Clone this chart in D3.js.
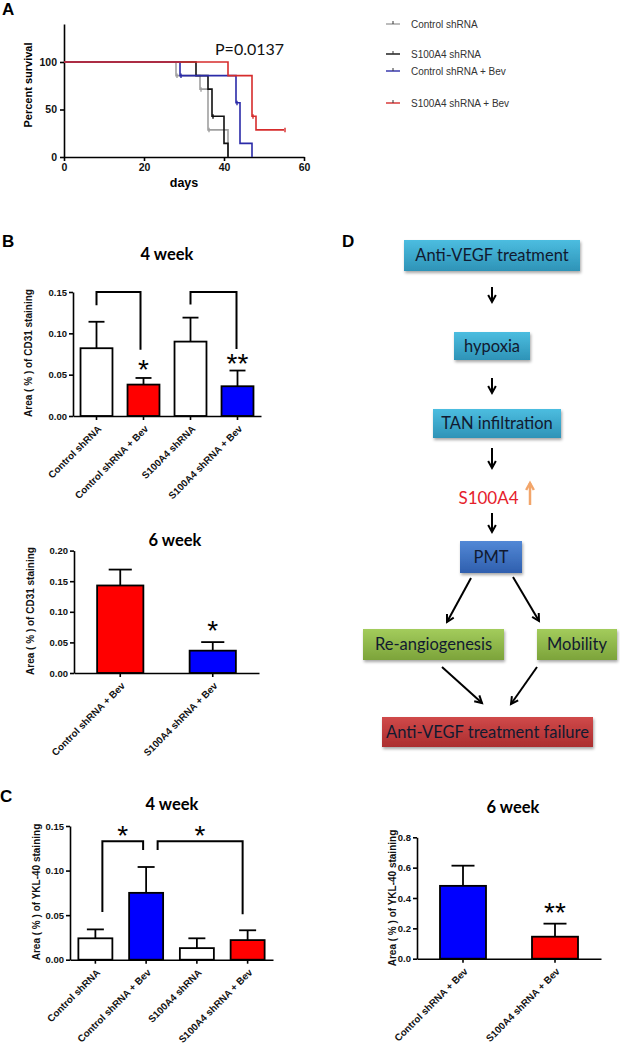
<!DOCTYPE html>
<html><head><meta charset="utf-8">
<script src="https://cdn.jsdelivr.net/npm/d3@7"></script>
<style>body{margin:0;background:#fff}</style>
</head><body>
<svg id="fig" width="620" height="1049" xmlns="http://www.w3.org/2000/svg"></svg>
<script>
// ---------------- DATA ----------------
// Panel A: Kaplan-Meier survival
const survGroups = ["Control shRNA", "S100A4 shRNA", "Control shRNA + Bev", "S100A4 shRNA + Bev"];
const survCtrlDays = [0, 28, 34, 36, 41];
const survCtrlPct = [100, 85.7, 71.4, 28.6, 0];
const survS100Days = [0, 33, 36, 37, 40, 41];
const survS100Pct = [100, 85.7, 71.4, 42.9, 14.3, 0];
const survCtrlBevDays = [0, 29, 43, 44, 47];
const survCtrlBevPct = [100, 85.7, 57.1, 14.3, 0];
const survS100BevDays = [0, 41, 47, 48, 55];
const survS100BevPct = [100, 85.7, 42.9, 28.6, 28.6];
const survCensorDays = [[28, 34, 36], [37], [29, 43], [47, 55]];
const survCensorPct = [[85.7, 71.4, 28.6], [42.9], [85.7, 57.1], [42.9, 28.6]];
const survXTicks = [0, 20, 40, 60];
const survYTicks = [0, 50, 100];
const survPValue = "P=0.0137";

// Panel B: CD31
const b4Categories = ["Control shRNA", "Control shRNA + Bev", "S100A4 shRNA", "S100A4 shRNA + Bev"];
const b4Means = [0.082, 0.038, 0.090, 0.036];
const b4Errors = [0.032, 0.008, 0.029, 0.019];
const b4Ticks = [0, 0.05, 0.10, 0.15];
const b6Categories = ["Control shRNA + Bev", "S100A4 shRNA + Bev"];
const b6Means = [0.143, 0.0365];
const b6Errors = [0.026, 0.014];
const b6Ticks = [0, 0.05, 0.10, 0.15, 0.20];

// Panel C: YKL-40
const c4Categories = ["Control shRNA", "Control shRNA + Bev", "S100A4 shRNA", "S100A4 shRNA + Bev"];
const c4Means = [0.024, 0.075, 0.013, 0.022];
const c4Errors = [0.010, 0.029, 0.011, 0.011];
const c4Ticks = [0, 0.05, 0.10, 0.15];
const c6Categories = ["Control shRNA + Bev", "S100A4 shRNA + Bev"];
const c6Means = [0.48, 0.145];
const c6Errors = [0.133, 0.086];
const c6Ticks = [0, 0.2, 0.4, 0.6, 0.8];

// Panel D: flowchart labels
const flowLabels = ["Anti-VEGF treatment", "hypoxia", "TAN infiltration", "S100A4", "PMT",
  "Re-angiogenesis", "Mobility", "Anti-VEGF treatment failure"];

// ---------------- DRAWING ----------------
const svg = d3.select("#fig");
const AR = "'Liberation Sans', Arial, sans-serif";
const CAL = "Lato, 'Open Sans', sans-serif";

function styleAxis(sel, fs) {
  sel.attr("font-family", AR).attr("font-size", fs).attr("font-weight", "bold");
  sel.selectAll("path, line").attr("stroke", "#000").attr("stroke-width", 1.6);
  sel.selectAll("text").attr("fill", "#111");
}
function label(txt, x, y, size) {
  svg.append("text").attr("x", x).attr("y", y).text(txt)
    .attr("font-family", AR).attr("font-weight", "bold").attr("font-size", size).attr("fill", "#000");
}

// Panel letters
label("A", 2, 15, 17);
label("B", 2, 247, 17);
label("C", 0, 802, 17);
label("D", 342, 247, 17);

// ---- Panel A ----
{
  const g = svg.append("g");
  const x = d3.scaleLinear().domain([0, 60]).range([64, 304]);
  const y = d3.scaleLinear().domain([0, 140]).range([157, 24]);
  g.append("g").attr("transform", "translate(0,157)")
    .call(d3.axisBottom(x).tickValues(survXTicks).tickSize(4).tickSizeOuter(0).tickPadding(3))
    .call(styleAxis, 10.5);
  g.append("g").attr("transform", "translate(64,0)")
    .call(d3.axisLeft(y).tickValues(survYTicks).tickSize(4).tickSizeOuter(0).tickPadding(3))
    .call(styleAxis, 10.5);
  const colors = ["#a0a0a0", "#111111", "#2b2ba8", "#d62c2c"];
  const series = [
    d3.zip(survCtrlDays, survCtrlPct),
    d3.zip(survS100Days, survS100Pct),
    d3.zip(survCtrlBevDays, survCtrlBevPct),
    d3.zip(survS100BevDays, survS100BevPct)
  ];
  const line = d3.line().x(d => x(d[0])).y(d => y(d[1])).curve(d3.curveStepAfter);
  series.forEach((s, i) => {
    g.append("path").attr("d", line(s)).attr("fill", "none").attr("stroke", colors[i]).attr("stroke-width", 1.6);
    d3.zip(survCensorDays[i], survCensorPct[i]).forEach(c => {
      g.append("line").attr("x1", x(c[0]) + 1).attr("x2", x(c[0]) + 1)
        .attr("y1", y(c[1]) - 2).attr("y2", y(c[1]) + 2.5)
        .attr("stroke", colors[i]).attr("stroke-width", 1.4);
    });
  });
  g.append("text").attr("x", 215).attr("y", 55).text(survPValue)
    .attr("font-family", CAL).attr("font-size", 16).attr("fill", "#111");
  g.append("text").attr("x", 184).attr("y", 187).attr("text-anchor", "middle").text("days")
    .attr("font-family", AR).attr("font-weight", "bold").attr("font-size", 12.5);
  g.append("text").attr("transform", "translate(28,85) rotate(-90)").attr("dy", "0.35em")
    .attr("text-anchor", "middle").text("Percent survival")
    .attr("font-family", AR).attr("font-weight", "bold").attr("font-size", 11);
  // legend
  const ly = [24, 54, 71, 103];
  survGroups.forEach((name, i) => {
    g.append("line").attr("x1", 386).attr("x2", 400).attr("y1", ly[i]).attr("y2", ly[i])
      .attr("stroke", colors[i]).attr("stroke-width", 1.4);
    g.append("line").attr("x1", 393).attr("x2", 393).attr("y1", ly[i] - 3).attr("y2", ly[i])
      .attr("stroke", "#333").attr("stroke-width", 1);
    g.append("text").attr("x", 411).attr("y", ly[i]).attr("dy", "0.35em").text(name)
      .attr("font-family", AR).attr("font-size", 10).attr("fill", "#333");
  });
}

// ---- Bar chart helper ----
function barChart(o) {
  const g = svg.append("g");
  const x = d3.scaleBand().domain(o.cats).range([o.x0, o.x1]).paddingInner(o.pad).paddingOuter(o.pad / 2);
  const y = d3.scaleLinear().domain([0, o.yMax]).range([o.y0, o.yTop]);
  const cx = i => x(o.cats[i]) + x.bandwidth() / 2;
  // bars
  g.selectAll("rect").data(o.means).join("rect")
    .attr("x", (d, i) => x(o.cats[i])).attr("y", d => y(d))
    .attr("width", x.bandwidth()).attr("height", d => o.y0 - y(d))
    .attr("fill", (d, i) => o.colors[i]).attr("stroke", "#000").attr("stroke-width", 1.8);
  // error bars (upper only)
  const cap = x.bandwidth() * 0.5;
  o.means.forEach((m, i) => {
    g.append("line").attr("x1", cx(i)).attr("x2", cx(i)).attr("y1", y(m)).attr("y2", y(m + o.errs[i]))
      .attr("stroke", "#000").attr("stroke-width", 1.8);
    g.append("line").attr("x1", cx(i) - cap / 2).attr("x2", cx(i) + cap / 2)
      .attr("y1", y(m + o.errs[i])).attr("y2", y(m + o.errs[i]))
      .attr("stroke", "#000").attr("stroke-width", 1.8);
  });
  // axes
  g.append("g").attr("transform", `translate(0,${o.y0})`)
    .call(d3.axisBottom(x).tickSize(4).tickSizeOuter(0).tickFormat(""))
    .call(styleAxis, 9.5);
  g.append("g").attr("transform", `translate(${o.x0},0)`)
    .call(d3.axisLeft(y).tickValues(o.ticks).tickFormat(d3.format(o.fmt)).tickSize(4).tickSizeOuter(0).tickPadding(2))
    .call(styleAxis, 9.5);
  // rotated category labels
  o.cats.forEach((c, i) => {
    g.append("text").attr("transform", `translate(${cx(i) + 3},${o.y0 + 11}) rotate(-45)`)
      .attr("dy", "0.35em").attr("text-anchor", "end").text(c)
      .attr("font-family", AR).attr("font-weight", "bold").attr("font-size", 9.8).attr("fill", "#111");
  });
  // y title
  g.append("text").attr("transform", `translate(${o.ylx},${o.yly}) rotate(-90)`).attr("dy", "0.35em")
    .attr("text-anchor", "middle").text(o.ylabel)
    .attr("font-family", AR).attr("font-weight", "bold").attr("font-size", 10).attr("fill", "#111");
  // title
  g.append("text").attr("x", o.tx).attr("y", o.ty).attr("text-anchor", "middle").text(o.title)
    .attr("font-family", CAL).attr("font-weight", "bold").attr("font-size", 16.5).attr("fill", "#000");
  return { g, x, y, cx };
}
function bracket(ch, xa, ya0, xb, yb0, ytop) {
  ch.g.append("path")
    .attr("d", `M${xa},${ch.y(ya0)}V${ch.y(ytop)}H${xb}V${ch.y(yb0)}`)
    .attr("fill", "none").attr("stroke", "#000").attr("stroke-width", 2);
}
function stars(ch, txt, x, v) {
  ch.g.append("text").attr("x", x).attr("y", ch.y(v) + 12).attr("text-anchor", "middle").text(txt)
    .attr("font-family", AR).attr("font-size", 28).attr("fill", "#000");
}

// B: 4 week
const chB4 = barChart({
  cats: b4Categories, means: b4Means, errs: b4Errors, colors: ["#fff", "#ff0000", "#fff", "#0000ff"],
  x0: 73, x1: 261, y0: 416, yTop: 292, yMax: 0.15, pad: 0.32, ticks: b4Ticks, fmt: ".2f",
  ylabel: "Area ( % ) of CD31 staining", ylx: 28, yly: 353, title: "4 week", tx: 167, ty: 260
});
bracket(chB4, chB4.cx(0), 0.134, chB4.cx(1) - 3, 0.080, 0.15);
bracket(chB4, chB4.cx(2), 0.135, chB4.cx(3) - 1, 0.081, 0.15);
stars(chB4, "*", chB4.cx(1), 0.059);
stars(chB4, "**", chB4.cx(3), 0.066);

// B: 6 week
const chB6 = barChart({
  cats: b6Categories, means: b6Means, errs: b6Errors, colors: ["#ff0000", "#0000ff"],
  x0: 74, x1: 259, y0: 673, yTop: 550.6, yMax: 0.20, pad: 0.5, ticks: b6Ticks, fmt: ".2f",
  ylabel: "Area ( % ) of CD31 staining", ylx: 30, yly: 611, title: "6 week", tx: 175, ty: 546
});
stars(chB6, "*", chB6.cx(1), 0.0735);

// C: 4 week
const chC4 = barChart({
  cats: c4Categories, means: c4Means, errs: c4Errors, colors: ["#fff", "#0000ff", "#fff", "#ff0000"],
  x0: 70, x1: 273, y0: 959.7, yTop: 826, yMax: 0.15, pad: 0.33, ticks: c4Ticks, fmt: ".2f",
  ylabel: "Area ( % ) of YKL-40 staining", ylx: 36, yly: 892, title: "4 week", tx: 172, ty: 810
});
bracket(chC4, chC4.cx(0) + 7, 0.0535, chC4.cx(1) - 3, 0.123, 0.133);
bracket(chC4, chC4.cx(1) + 11.5, 0.123, chC4.cx(3) - 5, 0.051, 0.133);
stars(chC4, "*", (chC4.cx(0) + chC4.cx(1)) / 2 + 2, 0.142);
stars(chC4, "*", (chC4.cx(1) + chC4.cx(3)) / 2 + 3, 0.142);

// C: 6 week
const chC6 = barChart({
  cats: c6Categories, means: c6Means, errs: c6Errors, colors: ["#0000ff", "#ff0000"],
  x0: 417, x1: 601, y0: 958.7, yTop: 837.3, yMax: 0.8, pad: 0.5, ticks: c6Ticks, fmt: ".1f",
  ylabel: "Area ( % ) of YKL-40 staining", ylx: 392, yly: 898, title: "6 week", tx: 513, ty: 813
});
stars(chC6, "**", chC6.cx(1), 0.32);

// ---- Panel D: flowchart ----
{
  const defs = svg.append("defs");
  const grads = {
    cyan: ["#4cbde0", "#2e93b7"],
    blue: ["#5288d6", "#2f5fae"],
    green: ["#a3cc5c", "#7ca33a"],
    red: ["#d0494a", "#ab2e2f"]
  };
  Object.entries(grads).forEach(([k, c]) => {
    const lg = defs.append("linearGradient").attr("id", "g-" + k).attr("x1", 0).attr("y1", 0).attr("x2", 0).attr("y2", 1);
    lg.append("stop").attr("offset", "0%").attr("stop-color", c[0]);
    lg.append("stop").attr("offset", "100%").attr("stop-color", c[1]);
  });
  const f = defs.append("filter").attr("id", "shadow").attr("x", "-10%").attr("y", "-20%").attr("width", "130%").attr("height", "160%");
  f.append("feDropShadow").attr("dx", 1).attr("dy", 2).attr("stdDeviation", 1.5).attr("flood-color", "#000").attr("flood-opacity", 0.35);

  const g = svg.append("g");
  function box(txt, x0, y0, x1, y1, col) {
    g.append("rect").attr("x", x0).attr("y", y0).attr("width", x1 - x0).attr("height", y1 - y0)
      .attr("fill", `url(#g-${col})`).attr("filter", "url(#shadow)");
    g.append("text").attr("x", (x0 + x1) / 2).attr("y", (y0 + y1) / 2).attr("dy", "0.36em")
      .attr("text-anchor", "middle").text(txt)
      .attr("font-family", CAL).attr("font-size", 16.5).attr("fill", "#111a30");
  }
  function arrow(x1, y1, x2, y2, color, w) {
    const a = Math.atan2(y2 - y1, x2 - x1), L = 8, s = 0.5;
    g.append("line").attr("x1", x1).attr("y1", y1).attr("x2", x2).attr("y2", y2)
      .attr("stroke", color).attr("stroke-width", w);
    g.append("path").attr("d",
      `M${x2 - L * Math.cos(a - s)},${y2 - L * Math.sin(a - s)}L${x2},${y2}L${x2 - L * Math.cos(a + s)},${y2 - L * Math.sin(a + s)}`)
      .attr("fill", "none").attr("stroke", color).attr("stroke-width", w).attr("stroke-linejoin", "miter");
  }
  box(flowLabels[0], 404, 240, 580, 271, "cyan");
  arrow(492, 287, 492, 302, "#000", 2);
  box(flowLabels[1], 454, 332, 530, 360, "cyan");
  arrow(492, 378, 492, 393, "#000", 2);
  box(flowLabels[2], 433, 409, 561, 438, "cyan");
  arrow(492, 448, 492, 468, "#000", 2);
  g.append("text").attr("x", 488.5).attr("y", 504).attr("text-anchor", "middle").text(flowLabels[3])
    .attr("font-family", CAL).attr("font-size", 17).attr("fill", "#e5202b");
  arrow(530, 505, 530, 483, "#f2a56a", 2.5);
  arrow(492, 513, 492, 532, "#000", 2);
  box(flowLabels[4], 460, 541, 522, 573, "blue");
  arrow(471, 578, 447, 622, "#000", 2);
  arrow(513, 577, 539, 621, "#000", 2);
  box(flowLabels[5], 363, 629, 504, 660, "green");
  box(flowLabels[6], 537, 629, 617, 660, "green");
  arrow(442, 667, 482, 703, "#000", 2);
  arrow(537, 667, 511, 704, "#000", 2);
  box(flowLabels[7], 382, 717, 593, 747, "red");
}
</script>
</body></html>
